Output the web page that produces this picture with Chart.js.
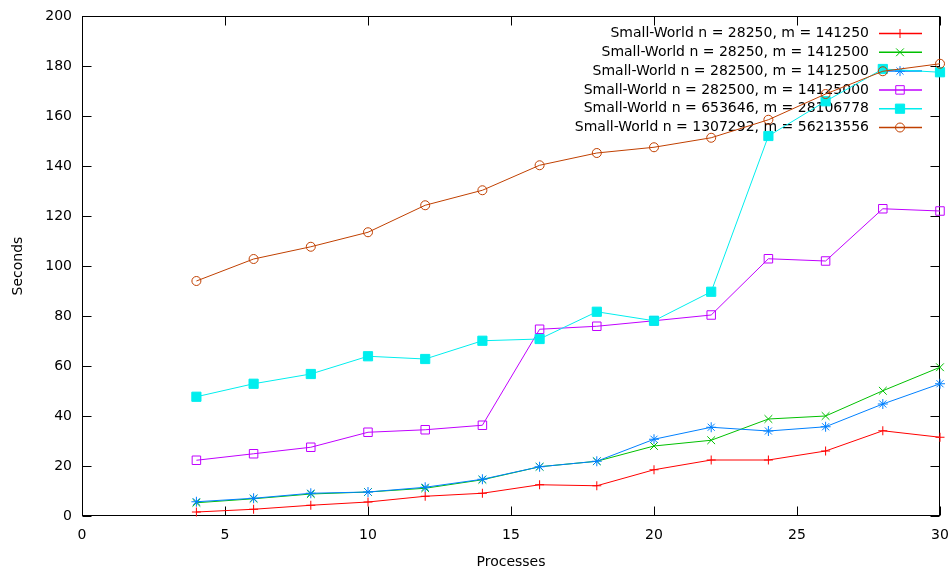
<!DOCTYPE html>
<html>
<head>
<meta charset="utf-8">
<script src="https://cdn.jsdelivr.net/npm/chart.js@4/dist/chart.umd.min.js"></script>
<style>
  html, body { margin: 0; padding: 0; background: #fff; }
  #wrap { width: 951px; height: 572px; }
</style>
</head>
<body>
<div id="wrap"><canvas id="c" width="951" height="572"></canvas></div>
<script>
// Run times (seconds) per number of processes for each Small-World graph
const processes = [4, 6, 8, 10, 12, 14, 16, 18, 20, 22, 24, 26, 28, 30];

const sw28250_141250    = [1.6, 2.7, 4.3, 5.6, 7.9, 9.1, 12.5, 12.1, 18.5, 22.4, 22.4, 26.0, 34.1, 31.5];
const sw28250_1412500   = [5.3, 6.9, 8.8, 9.6, 11.1, 14.5, 19.7, 21.9, 28.0, 30.3, 38.8, 40.0, 50.1, 59.5];
const sw282500_1412500  = [5.7, 7.1, 9.1, 9.6, 11.5, 14.7, 19.7, 21.9, 30.7, 35.5, 34.0, 35.7, 44.8, 52.9];
const sw282500_14125000 = [22.3, 24.9, 27.5, 33.5, 34.5, 36.3, 74.7, 75.9, 78.1, 80.4, 102.9, 102.0, 122.9, 122.0];
const sw653646_28106778 = [47.7, 52.9, 56.8, 63.9, 62.8, 70.1, 70.8, 81.7, 78.1, 89.7, 152.0, 165.9, 178.8, 177.5];
const sw1307292_56213556 = [94.0, 102.8, 107.7, 113.5, 124.3, 130.3, 140.3, 145.2, 147.5, 151.3, 158.5, 168.8, 177.9, 180.9];

const seriesLabels = [
  'Small-World n = 28250, m = 141250',
  'Small-World n = 28250, m = 1412500',
  'Small-World n = 282500, m = 1412500',
  'Small-World n = 282500, m = 14125000',
  'Small-World n = 653646, m = 28106778',
  'Small-World n = 1307292, m = 56213556'
];

const xTitle = 'Processes';
const yTitle = 'Seconds';

const FONT = "'DejaVu Sans', 'Liberation Sans', Arial, sans-serif";
const FSIZE = 14;

const seriesValues = [sw28250_141250, sw28250_1412500, sw282500_1412500,
                      sw282500_14125000, sw653646_28106778, sw1307292_56213556];

// line colour, marker style, marker radius, marker fill
const styles = [
  { color: '#ff0000', point: 'cross',    r: 4.5, fill: '#ff0000' },
  { color: '#00c000', point: 'crossRot', r: 5.5, fill: '#00c000' },
  { color: '#0080ff', point: 'star',     r: 5,   fill: '#0080ff' },
  { color: '#c000ff', point: 'rect',     r: 6,   fill: 'rgba(0,0,0,0)' },
  { color: '#00eeee', point: 'rect',     r: 6.5, fill: '#00eeee' },
  { color: '#c04000', point: 'circle',   r: 4.5, fill: 'rgba(0,0,0,0)' }
];

const datasets = seriesValues.map((vals, i) => ({
  label: seriesLabels[i],
  data: processes.map((p, k) => ({ x: p, y: vals[k] })),
  borderColor: styles[i].color,
  backgroundColor: styles[i].fill,
  borderWidth: 1,
  pointStyle: styles[i].point,
  pointRadius: styles[i].r,
  pointBorderWidth: 1,
  pointBorderColor: styles[i].color,
  pointBackgroundColor: styles[i].fill,
  tension: 0,
  fill: false,
  clip: false,
  order: seriesValues.length - i   // later series are drawn on top
}));

// Plot frame with inward ticks on all four sides, plus the key in the top-right corner
const frameAndKey = {
  id: 'frameAndKey',
  beforeDatasetsDraw(chart) {
    const { ctx, chartArea: a, scales: { x, y } } = chart;
    ctx.save();
    ctx.strokeStyle = '#000';
    ctx.lineWidth = 1;
    const L = Math.round(a.left) + 0.5, R = Math.round(a.right) - 0.5;
    const T = Math.round(a.top) + 0.5, B = Math.round(a.bottom) - 0.5;
    ctx.strokeRect(L, T, R - L, B - T);

    const tl = 9;
    ctx.beginPath();
    x.ticks.forEach(t => {
      const px = Math.round(x.getPixelForValue(t.value)) + 0.5;
      ctx.moveTo(px, B); ctx.lineTo(px, B - tl);
      ctx.moveTo(px, T); ctx.lineTo(px, T + tl);
    });
    y.ticks.forEach(t => {
      const py = Math.round(y.getPixelForValue(t.value)) + 0.5;
      ctx.moveTo(L, py); ctx.lineTo(L + tl, py);
      ctx.moveTo(R, py); ctx.lineTo(R - tl, py);
    });
    ctx.stroke();

    // key
    const textRight = 869, lineL = 879, lineR = 922, markX = 900;
    const top0 = 33.5, step = 18.8;
    ctx.font = FSIZE + 'px ' + FONT;
    ctx.textAlign = 'right';
    ctx.textBaseline = 'middle';
    chart.data.datasets.forEach((ds, i) => {
      const yy = top0 + i * step;
      ctx.fillStyle = '#000';
      ctx.fillText(ds.label, textRight, yy);
      ctx.strokeStyle = ds.borderColor;
      ctx.lineWidth = 1.5;
      ctx.beginPath();
      ctx.moveTo(lineL, yy); ctx.lineTo(lineR, yy);
      ctx.stroke();
      ctx.lineWidth = 1;
      ctx.fillStyle = ds.pointBackgroundColor;
      ctx.strokeStyle = ds.pointBorderColor;
      if (Chart.helpers && Chart.helpers.drawPoint) {
        Chart.helpers.drawPoint(ctx, {
          pointStyle: ds.pointStyle, radius: ds.pointRadius,
          borderWidth: 1, rotation: 0
        }, markX, yy);
      }
    });
    ctx.restore();
  }
};

// keep the plot box fixed: no extra room reserved for overhanging tick labels
function noOverhang(s) {
  s.paddingLeft = 0; s.paddingRight = 0; s.paddingTop = 0; s.paddingBottom = 0;
}

new Chart(document.getElementById('c'), {
  type: 'line',
  data: { datasets },
  options: {
    responsive: false,
    animation: false,
    devicePixelRatio: 1,
    layout: { padding: { top: 16, right: 11, left: 0, bottom: 0 } },
    plugins: { legend: { display: false }, tooltip: { enabled: false } },
    scales: {
      x: {
        type: 'linear', min: 0, max: 30,
        ticks: { stepSize: 5, color: '#000', padding: 11, font: { family: FONT, size: FSIZE } },
        grid: { display: false, drawTicks: false },
        border: { display: false },
        title: { display: true, text: xTitle, color: '#000', padding: { top: 0, bottom: 1 }, font: { family: FONT, size: FSIZE } },
        afterFit(s) { s.height = 56; noOverhang(s); }
      },
      y: {
        type: 'linear', min: 0, max: 200,
        ticks: { stepSize: 20, color: '#000', padding: 10, font: { family: FONT, size: FSIZE } },
        grid: { display: false, drawTicks: false },
        border: { display: false },
        title: { display: true, text: yTitle, color: '#000', padding: { top: 10, bottom: 0 }, font: { family: FONT, size: FSIZE } },
        afterFit(s) { s.width = 82; noOverhang(s); }
      }
    }
  },
  plugins: [frameAndKey]
});
</script>
</body>
</html>
